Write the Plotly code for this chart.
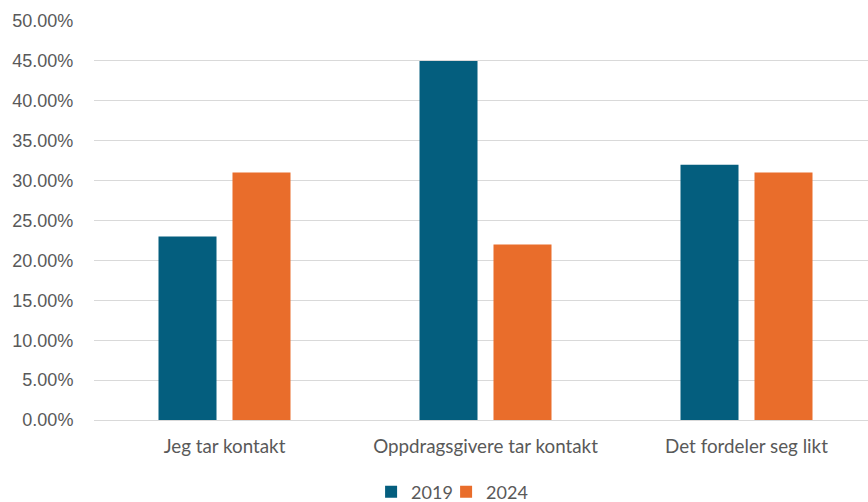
import plotly.graph_objects as go

categories = ["Jeg tar kontakt", "Oppdragsgivere tar kontakt", "Det fordeler seg likt"]
values_2019 = [0.23, 0.45, 0.32]
values_2024 = [0.31, 0.22, 0.31]
series_names = ["2019", "2024"]
colors = ["#045E7E", "#E96D2B"]

fig = go.Figure()
for name, vals, col in zip(series_names, [values_2019, values_2024], colors):
    fig.add_trace(go.Bar(x=categories, y=vals, name=name, marker_color=col,
                         marker_line_width=0))

# invisible spacer legend entry so the last legend label is not clipped
fig.add_trace(go.Scatter(x=[None], y=[None], name="", mode="markers",
                         showlegend=True, hoverinfo="skip",
                         marker=dict(color="rgba(0,0,0,0)", size=1,
                                     line=dict(width=0))))

fig.update_layout(
    width=868, height=502,
    margin=dict(l=94, r=0, t=21, b=82),
    paper_bgcolor="white", plot_bgcolor="white",
    barmode="group", bargap=0.433, bargroupgap=0.216,
    font=dict(family="Liberation Sans", color="#595959", size=16),
    legend=dict(orientation="h", x=0.358, xanchor="left",
                yref="container", y=0.02, yanchor="middle",
                font=dict(family="Lato", size=18, color="#595959"),
                itemwidth=30, entrywidth=30, tracegroupgap=0),
    xaxis=dict(range=[-0.5, 2.4655], showgrid=False, showline=True,
               linecolor="#d9d9d9", linewidth=1, automargin=False,
               tickfont=dict(family="Lato", size=18.8, color="#595959"),
               ticks="outside", ticklen=9, tickcolor="rgba(0,0,0,0)"),
    yaxis=dict(range=[0, 0.5], dtick=0.05, tickformat=".2%",
               showgrid=True, gridcolor="#d9d9d9", gridwidth=1,
               zeroline=False, ticks="outside", ticklen=16, automargin=False,
               tickcolor="rgba(0,0,0,0)",
               tickfont=dict(family="Liberation Sans", size=18, color="#595959")),
)

fig.write_html("out.html", config={"displayModeBar": False},
               post_script="document.body.style.margin='0';")
